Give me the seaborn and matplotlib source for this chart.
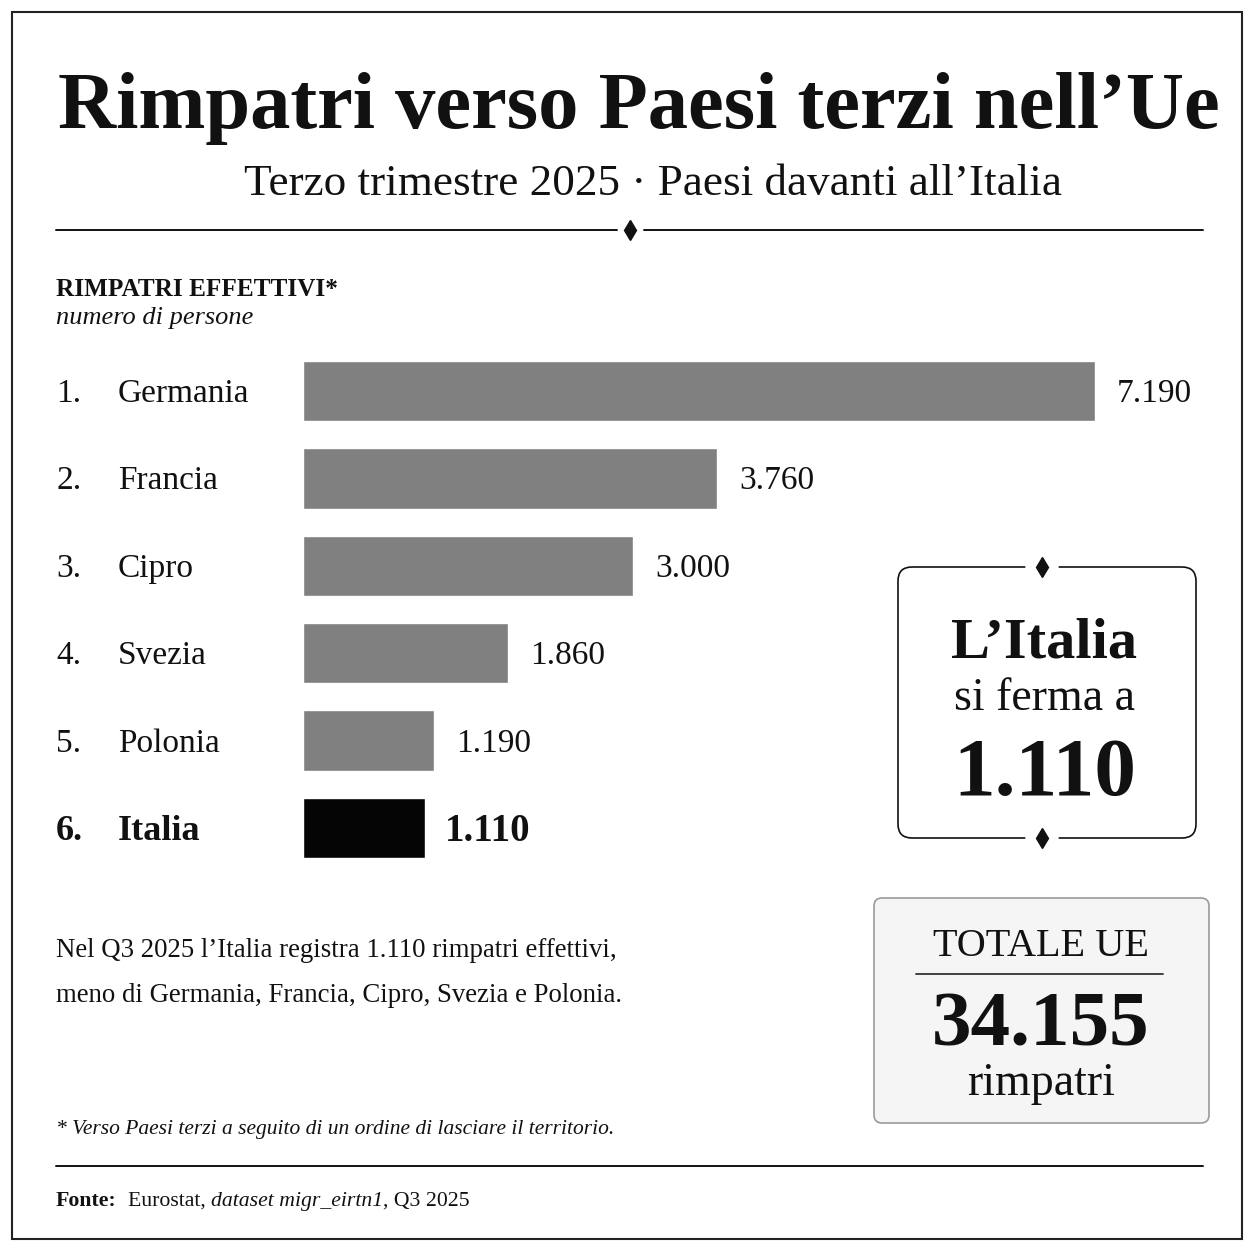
import matplotlib
matplotlib.use("Agg")
import matplotlib.pyplot as plt
import matplotlib.transforms as mtransforms
from matplotlib.patches import FancyBboxPatch, Rectangle
import pandas as pd
import seaborn as sns

# data
ranks = ["1.", "2.", "3.", "4.", "5.", "6."]
countries = ["Germania", "Francia", "Cipro", "Svezia", "Polonia", "Italia"]
returns = [7190, 3760, 3000, 1860, 1190, 1110]
value_labels = ["7.190", "3.760", "3.000", "1.860", "1.190", "1.110"]
bar_colors = ["#808080", "#808080", "#808080", "#808080", "#808080", "#050505"]
eu_total = "34.155"
italy_value = "1.110"

SERIF = ["Liberation Serif", "DejaVu Serif"]
INK = "#111111"

sns.set_theme(style="white")
plt.rcParams["font.family"] = SERIF

W = H = 1254
fig = plt.figure(figsize=(W / 100, H / 100), dpi=100)
fig.patch.set_facecolor("white")

# overlay in pixel coordinates, origin top-left
ov = fig.add_axes([0, 0, 1, 1])
ov.set_xlim(0, W)
ov.set_ylim(H, 0)
ov.axis("off")

# outer frame
ov.add_patch(Rectangle((12, 12), 1230, 1227, fill=False, edgecolor="#222222", lw=1.5))

# title block
ov.text(639, 128, "Rimpatri verso Paesi terzi nell\u2019Ue", ha="center", va="baseline",
        fontsize=58, fontweight="bold", color=INK)
ov.text(653, 195, "Terzo trimestre 2025 \u00b7 Paesi davanti all\u2019Italia", ha="center",
        va="baseline", fontsize=32.5, color=INK)

# divider with diamond
ov.plot([56, 617], [230, 230], color=INK, lw=1.4)
ov.plot([644, 1203], [230, 230], color=INK, lw=1.4)
ov.plot([630], [230], marker="d", markersize=10, color=INK)

ov.text(56, 296, "RIMPATRI EFFETTIVI*", ha="left", va="baseline", fontsize=18.2,
        fontweight="bold", color=INK)
ov.text(56, 324, "numero di persone", ha="left", va="baseline", fontsize=19,
        style="italic", color=INK)

# bar chart
x0, x1 = 303, 1095
top, bottom = 347.3, 871.7
ax = fig.add_axes([x0 / W, 1 - bottom / H, (x1 - x0) / W, (bottom - top) / H])
df = pd.DataFrame({"country": countries, "value": returns})
sns.barplot(data=df, x="value", y="country", hue="country", palette=bar_colors,
            orient="h", width=0.69, legend=False, ax=ax, saturation=1)
ax.set_xlim(0, 7190)
ax.set_ylim(5.5, -0.5)
ax.axis("off")

trans = mtransforms.blended_transform_factory(ov.transData, ax.transData)
for i, (rk, name, val, lab) in enumerate(zip(ranks, countries, returns, value_labels)):
    bold = name == "Italia"
    fw = "bold" if bold else "normal"
    fs = 26 if bold else 24
    shift = 0.135 if bold else 0.125
    ax.text(56, i + shift, rk, transform=trans, ha="left", va="baseline", fontsize=fs,
            fontweight=fw, color=INK)
    ax.text(118, i + shift, name, transform=trans, ha="left", va="baseline", fontsize=fs,
            fontweight=fw, color=INK)
    ax.annotate(lab, (val, i + (0.145 if bold else 0.125)), xytext=(14 if bold else 16, 0),
                textcoords="offset points", ha="left", va="baseline",
                fontsize=28 if bold else 24, fontweight=fw, color=INK)

# Italy box
ov.add_patch(FancyBboxPatch((898, 567), 298, 271, boxstyle="round,pad=0,rounding_size=14",
                            fill=False, edgecolor=INK, lw=1.2, zorder=2))
for yy in (567, 838):
    ov.plot([1028, 1056], [yy, yy], color="white", lw=4, zorder=3)
    ov.plot([1042], [yy], marker="d", markersize=10, color=INK, zorder=4)
ov.text(1044, 658, "L\u2019Italia", ha="center", va="baseline", fontsize=42,
        fontweight="bold", color=INK)
ov.text(1045, 710, "si ferma a", ha="center", va="baseline", fontsize=33, color=INK)
ov.text(1045, 795, italy_value, ha="center", va="baseline", fontsize=60,
        fontweight="bold", color=INK)

# EU total box
ov.add_patch(FancyBboxPatch((874, 898), 335, 225, boxstyle="round,pad=0,rounding_size=8",
                            facecolor="#f5f5f5", edgecolor="#9a9a9a", lw=1.2, zorder=2))
ov.text(1041, 956, "TOTALE UE", ha="center", va="baseline", fontsize=29, color=INK, zorder=3)
ov.plot([916, 1163], [974, 974], color="#333333", lw=1.3, zorder=3)
ov.text(1041, 1046, eu_total, ha="center", va="baseline", fontsize=57, fontweight="bold",
        color=INK, zorder=3)
ov.text(1041, 1095, "rimpatri", ha="center", va="baseline", fontsize=33, color=INK, zorder=3)

# note
ov.text(56, 957, "Nel Q3 2025 l\u2019Italia registra 1.110 rimpatri effettivi,", ha="left",
        va="baseline", fontsize=19.3, color=INK)
ov.text(56, 1002, "meno di Germania, Francia, Cipro, Svezia e Polonia.", ha="left",
        va="baseline", fontsize=19.3, color=INK)

ov.text(56, 1134, "* Verso Paesi terzi a seguito di un ordine di lasciare il territorio.",
        ha="left", va="baseline", fontsize=15.5, style="italic", color=INK)
ov.plot([56, 1203], [1166, 1166], color=INK, lw=1.4)

# source line, pieces placed one after another
t = ov.text(56, 1206, "Fonte:", ha="left", va="baseline", fontsize=15.7, fontweight="bold",
            color=INK)
pieces = [("  Eurostat, ", "normal"), ("dataset migr_eirtn1", "italic"), (", Q3 2025", "normal")]
for txt, st in pieces:
    t = ov.annotate(txt, xycoords=t, xy=(1, 0), va="bottom", ha="left", fontsize=15.7,
                    style=st, color=INK)

fig.savefig("out.png", dpi=100, facecolor="white")
plt.close(fig)
